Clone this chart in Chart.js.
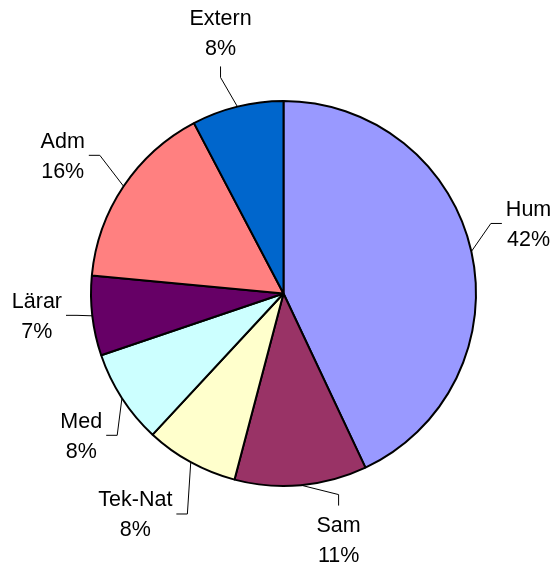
<!DOCTYPE html>
<html>
<head>
<meta charset="utf-8">
<script src="https://cdn.jsdelivr.net/npm/chart.js@4"></script>
<style>
  html, body { margin: 0; padding: 0; background: #ffffff; }
  #wrap { width: 558px; height: 573px; position: relative; }
</style>
</head>
<body>
<div id="wrap"><canvas id="c" width="558" height="573"></canvas></div>
<script>
// ---- data ----
const categories = ["Hum", "Sam", "Tek-Nat", "Med", "Lärar", "Adm", "Extern"];
const values = [43.0, 11.1, 7.8, 7.9, 6.7, 15.8, 7.7];
const percentLabels = ["42%", "11%", "8%", "8%", "7%", "16%", "8%"];
const colors = ["#9999FF", "#993366", "#FFFFCC", "#CCFFFF", "#660066", "#FF8080", "#0066CC"];

// ---- label placement (relative to each slice's mid-angle and the pie radius) ----
const labelAngleShift = [-3.35, -7.4, 5.1, -2.1, 1.6, -1.8, 0.3];
const labelDistance = [1.324, 1.31, 1.38, 1.283, 1.286, 1.353, 1.395];

const FONT = '21.5px "Liberation Sans", Arial, sans-serif';
const LINE_GAP = 30;

const labelPlugin = {
  id: 'leaderLabels',
  afterDraw(chart) {
    const ctx = chart.ctx;
    const meta = chart.getDatasetMeta(0);
    ctx.save();
    ctx.font = FONT;
    ctx.fillStyle = '#000';
    ctx.strokeStyle = '#000';
    ctx.lineWidth = 1;
    meta.data.forEach((arc, i) => {
      const p = arc.getProps(['x', 'y', 'startAngle', 'endAngle', 'outerRadius'], true);
      const mid = (p.startAngle + p.endAngle) / 2;
      const ex = p.x + Math.cos(mid) * p.outerRadius;
      const ey = p.y + Math.sin(mid) * p.outerRadius;
      const la = mid + labelAngleShift[i] * Math.PI / 180;
      const ld = labelDistance[i] * p.outerRadius;
      const lx = p.x + Math.cos(la) * ld;
      const ly = p.y + Math.sin(la) * ld;
      const w = Math.max(ctx.measureText(categories[i]).width, ctx.measureText(percentLabels[i]).width);
      const hw = w / 2 + 4;
      const hh = 34;
      // leader line
      ctx.beginPath();
      if (Math.abs(ex - lx) > Math.abs(ey - ly)) {
        const s = ex > lx ? 1 : -1;
        const ax = lx + s * hw;
        ctx.moveTo(ax, ly);
        ctx.lineTo(ax + s * 11, ly);
      } else {
        const s = ey > ly ? 1 : -1;
        const ay = ly + s * hh;
        ctx.moveTo(lx, ay);
        ctx.lineTo(lx, ay + s * 11);
      }
      ctx.lineTo(ex, ey);
      ctx.stroke();
      // text
      ctx.textAlign = 'center';
      ctx.textBaseline = 'alphabetic';
      ctx.fillText(categories[i], lx, ly - LINE_GAP / 2 + 7.5);
      ctx.fillText(percentLabels[i], lx, ly + LINE_GAP / 2 + 7.5);
    });
    ctx.restore();
  }
};

new Chart(document.getElementById('c'), {
  type: 'pie',
  data: {
    labels: categories,
    datasets: [{
      data: values,
      backgroundColor: colors,
      borderColor: '#000000',
      borderWidth: 2
    }]
  },
  options: {
    responsive: false,
    animation: false,
    layout: { padding: { left: 90, top: 100, right: 81, bottom: 86 } },
    plugins: {
      legend: { display: false },
      tooltip: { enabled: false }
    }
  },
  plugins: [labelPlugin]
});
</script>
</body>
</html>
